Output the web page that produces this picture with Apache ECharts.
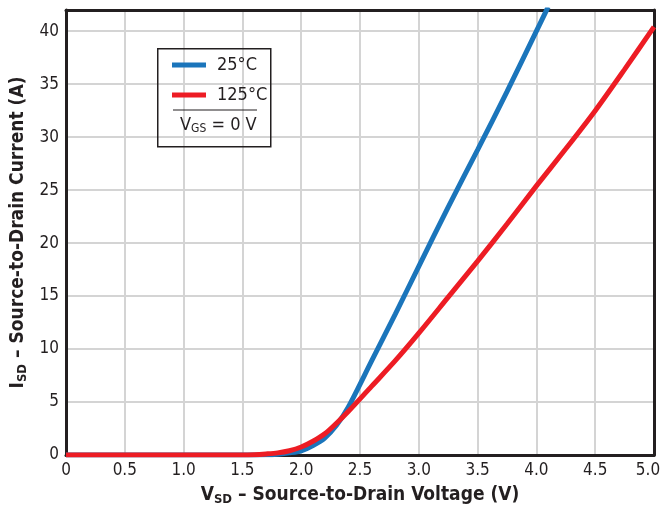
<!DOCTYPE html>
<html>
<head>
<meta charset="utf-8">
<script src="https://cdn.jsdelivr.net/npm/echarts@6/dist/echarts.min.js"></script>
<style>
  html, body { margin: 0; padding: 0; background: #fff; }
  #chart { width: 663px; height: 509px; }
</style>
</head>
<body>
<div id="chart"></div>
<script>
'use strict';
// source-drain diode forward characteristics
var seriesNames = ['25°C', '125°C'];
var vsd25 = [0, 1.5, 1.7, 1.8, 1.9, 2.0, 2.1, 2.2, 2.3, 2.4, 2.6, 2.8, 3.0, 3.25, 3.5, 3.75, 4.0, 4.1];
var isd25 = [0, 0, 0.02, 0.08, 0.2, 0.4, 0.9, 1.6, 2.8, 4.5, 8.9, 13.3, 17.8, 23.4, 28.8, 34.3, 40.0, 42.3];
var vsd125 = [0, 1.5, 1.6, 1.7, 1.8, 1.9, 2.0, 2.1, 2.2, 2.3, 2.4, 2.6, 2.8, 3.0, 3.25, 3.5, 3.75, 4.0, 4.25, 4.5, 4.75, 5.0];
var isd125 = [0, 0, 0.03, 0.1, 0.2, 0.4, 0.75, 1.3, 2.0, 3.0, 4.1, 6.5, 8.9, 11.5, 14.9, 18.3, 21.8, 25.4, 28.9, 32.5, 36.4, 40.4];
var xTicks = [0, 0.5, 1.0, 1.5, 2.0, 2.5, 3.0, 3.5, 4.0, 4.5, 5.0];
var yTicks = [0, 5, 10, 15, 20, 25, 30, 35, 40];

var FONT = '"Liberation Sans Narrow", "DejaVu Sans Condensed", sans-serif';
var INK = '#231f20';

function pairs(xs, ys) {
    var out = [];
    for (var i = 0; i < xs.length; i++) {
        out.push([xs[i], ys[i]]);
    }
    return out;
}

var axisName = {
    m: {fontFamily: FONT, fontSize: 19, fontWeight: 'bold', color: INK},
    s: {fontFamily: FONT, fontSize: 13, fontWeight: 'bold', color: INK, padding: [8, 0, 0, 0]}
};

// plain frame axes for the top and right edges
function frameAxis(pos) {
    return {
        type: 'value',
        position: pos,
        min: 0,
        max: pos === 'top' ? 5 : 42,
        axisLine: {show: true, onZero: false, lineStyle: {color: INK, width: 3}},
        axisTick: {show: false},
        axisLabel: {show: false},
        splitLine: {show: false}
    };
}

var chart = echarts.init(document.getElementById('chart'), null, {renderer: 'canvas'});

var option = {
    backgroundColor: '#ffffff',
    animation: false,
    textStyle: {fontFamily: FONT},
    grid: {
        left: 66,
        right: 9,
        top: 10,
        bottom: 54,
        outerBoundsMode: 'none'
    },
    legend: {
        orient: 'vertical',
        left: 172,
        top: 56,
        padding: 0,
        itemWidth: 34,
        itemHeight: 5,
        itemGap: 12,
        icon: 'rect',
        data: seriesNames,
        textStyle: {fontFamily: FONT, fontSize: 18, color: INK, padding: [0, 0, 0, 6]}
    },
    xAxis: [{
        type: 'value',
        min: 0,
        max: 5,
        interval: 0.5,
        name: '{m|V}{s|SD}{m| – Source-to-Drain Voltage (V)}',
        nameLocation: 'middle',
        nameGap: 30,
        nameTextStyle: {rich: axisName},
        axisLine: {show: true, lineStyle: {color: INK, width: 3}},
        axisTick: {show: false},
        axisLabel: {
            fontFamily: FONT,
            fontSize: 17,
            color: INK,
            margin: 7,
            rich: {
                last: {fontFamily: FONT, fontSize: 17, color: INK, padding: [0, 12, 0, 0]}
            },
            formatter: function (v) {
                var hit = xTicks.filter(function (t) { return Math.abs(t - v) < 1e-6; });
                if (!hit.length) return '';
                if (v === 0) return '0';
                if (v === 5) return '{last|' + v.toFixed(1) + '}';
                return v.toFixed(1);
            }
        },
        splitLine: {show: true, lineStyle: {color: '#d4d4d4', width: 2}}
    }, frameAxis('top')],
    yAxis: [{
        type: 'value',
        min: 0,
        max: 42,
        interval: 5,
        name: '{m|I}{s|SD}{m| – Source-to-Drain Current (A)}',
        nameLocation: 'middle',
        nameGap: 37,
        nameRotate: 90,
        nameTextStyle: {rich: axisName},
        axisLine: {show: true, lineStyle: {color: INK, width: 3}},
        axisTick: {show: false},
        axisLabel: {
            fontFamily: FONT,
            fontSize: 17,
            color: INK,
            margin: 7,
            showMaxLabel: false,
            formatter: function (v) {
                return yTicks.indexOf(v) >= 0 ? String(v) : '';
            }
        },
        splitLine: {show: true, lineStyle: {color: '#d4d4d4', width: 2}}
    }, frameAxis('right')],
    graphic: [
        {
            type: 'rect',
            left: 157,
            top: 48,
            shape: {width: 113, height: 98},
            style: {fill: 'transparent', stroke: INK, lineWidth: 1.5},
            z: 100
        },
        {
            type: 'line',
            shape: {x1: 173, y1: 110, x2: 257, y2: 110},
            style: {stroke: INK, lineWidth: 1.2},
            z: 100
        },
        {
            type: 'text',
            left: 180,
            top: 116,
            style: {
                text: '{m|V}{s|GS}{m| = 0 V}',
                rich: {
                    m: {fontFamily: FONT, fontSize: 18, fill: INK},
                    s: {fontFamily: FONT, fontSize: 12, fill: INK, padding: [7, 0, 0, 0]}
                }
            },
            z: 100
        }
    ],
    series: [
        {
            name: seriesNames[0],
            type: 'line',
            data: pairs(vsd25, isd25),
            smooth: 0.3,
            showSymbol: false,
            clip: true,
            color: '#1b75bb',
            lineStyle: {width: 5, color: '#1b75bb'}
        },
        {
            name: seriesNames[1],
            type: 'line',
            data: pairs(vsd125, isd125),
            smooth: 0.3,
            showSymbol: false,
            clip: true,
            color: '#ed1c24',
            lineStyle: {width: 5, color: '#ed1c24'}
        }
    ]
};
chart.setOption(option);
</script>
</body>
</html>
